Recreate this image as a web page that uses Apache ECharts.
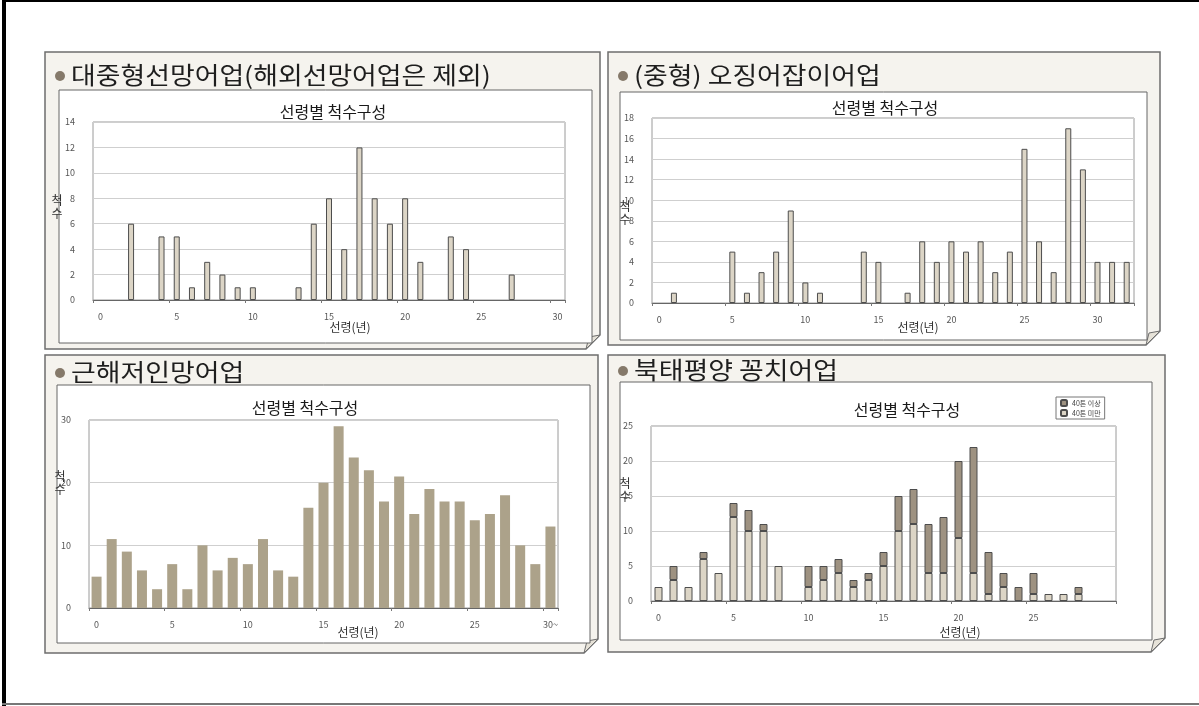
<!DOCTYPE html>
<html>
<head>
<meta charset="utf-8">
<script src="https://cdn.jsdelivr.net/npm/echarts@6/dist/echarts.min.js"></script>
<style>
  html, body { margin: 0; padding: 0; background: #ffffff; }
  #chart { width: 1199px; height: 706px; }
</style>
</head>
<body>
<div id="chart"></div>
<script>
// ---- categories (vessel age, years) ----
const ages0to30 = ['0','1','2','3','4','5','6','7','8','9','10','11','12','13','14','15','16','17','18','19','20','21','22','23','24','25','26','27','28','29','30'];
const ages0to32 = ['0','1','2','3','4','5','6','7','8','9','10','11','12','13','14','15','16','17','18','19','20','21','22','23','24','25','26','27','28','29','30','31','32'];
const trawlAges = ['0','1','2','3','4','5','6','7','8','9','10','11','12','13','14','15','16','17','18','19','20','21','22','23','24','25','26','27','28','29','30~'];

// ---- number of vessels by age ----
const purseSeine = [0,0,6,0,5,5,1,3,2,1,1,0,0,1,6,8,4,12,8,6,8,3,0,5,4,0,0,2,0,0,0];
const squidJig   = [0,1,0,0,0,5,1,3,5,9,2,1,0,0,5,4,0,1,6,4,6,5,6,3,5,15,6,3,17,13,4,4,4];
const trawl      = [5,11,9,6,3,7,3,10,6,8,7,11,6,5,16,20,29,24,22,17,21,15,19,17,17,14,15,18,10,7,13];
const sauryUnder40 = [2,3,2,6,4,12,10,10,5,0,2,3,4,2,3,5,10,11,4,4,9,4,1,2,0,1,1,1,1,0,0];
const sauryOver40  = [0,2,0,1,0,2,3,1,0,0,3,2,2,1,1,2,5,5,7,8,11,18,6,2,2,3,0,0,1,0,0];

// ---- text ----
const headings = ['대중형선망어업(해외선망어업은 제외)', '(중형) 오징어잡이어업', '근해저인망어업', '북태평양 꽁치어업'];
const chartTitle = '선령별 척수구성';
const xName = '선령(년)';
const yName = '척\n수';
const legendNames = ['40톤 이상', '40톤 미만'];

const FONT = '"Noto Sans CJK KR", "Noto Sans", sans-serif';
const LIGHT = '#dcd5c6';
const DARK = '#9e9281';
const EDGE = '#4d4d4d';

// empty age classes draw no bar at all
const bars = arr => arr.map(v => (v === 0 ? null : v));

// panel layout: outer paper frame, inner white box, plot grid, text anchors
const layout = [
  { outer: [45, 52, 555, 297], inner: [59, 90, 533, 253], grid: { left: 93, top: 122, width: 472, height: 178 },
    head: [55, 75], title: [333, 112], yName: [57, 207], xName: [350, 327] },
  { outer: [608, 52, 552, 293], inner: [620, 92, 527, 248], grid: { left: 652, top: 118, width: 482, height: 185 },
    head: [618, 75], title: [885, 108], yName: [625, 213], xName: [918, 327] },
  { outer: [45, 355, 553, 298], inner: [57, 385, 533, 258], grid: { left: 89, top: 420, width: 469, height: 188 },
    head: [55, 372], title: [305, 408], yName: [60, 483], xName: [358, 632] },
  { outer: [608, 355, 557, 297], inner: [620, 382, 532, 258], grid: { left: 651, top: 426, width: 465, height: 175 },
    head: [618, 370], title: [907, 410], yName: [625, 490], xName: [960, 632] }
];

const graphics = [];
// page edges
graphics.push({ type: 'rect', z: -10, shape: { x: 2, y: 0, width: 4, height: 706 }, style: { fill: '#000' } });
graphics.push({ type: 'rect', z: -10, shape: { x: 2, y: 0, width: 1197, height: 2 }, style: { fill: '#000' } });
graphics.push({ type: 'rect', z: -10, shape: { x: 2, y: 703, width: 1197, height: 2 }, style: { fill: '#777' } });

layout.forEach((p, i) => {
  const [ox, oy, ow, oh] = p.outer;
  const [ix, iy, iw, ih] = p.inner;
  const c = 14; // folded corner size
  // outer paper frame with folded bottom-right corner
  graphics.push({ type: 'polygon', z: -9,
    shape: { points: [[ox, oy], [ox + ow, oy], [ox + ow, oy + oh - c], [ox + ow - c, oy + oh], [ox, oy + oh]] },
    style: { fill: '#f5f3ee', stroke: '#6e6e6e', lineWidth: 1.5 } });
  graphics.push({ type: 'polygon', z: -8,
    shape: { points: [[ox + ow, oy + oh - c], [ox + ow - c, oy + oh], [ox + ow - c + 3, oy + oh - c + 2]] },
    style: { fill: '#e6e2d8', stroke: '#6e6e6e', lineWidth: 1 } });
  // inner white chart box
  graphics.push({ type: 'rect', z: -8, shape: { x: ix, y: iy, width: iw, height: ih },
    style: { fill: '#ffffff', stroke: '#666', lineWidth: 1 } });
  // heading with bullet
  graphics.push({ type: 'circle', z: -7, shape: { cx: p.head[0] + 5, cy: p.head[1] + 1, r: 5 },
    style: { fill: '#85796a' } });
  graphics.push({ type: 'text', z: -7, x: p.head[0] + 16, y: p.head[1], scaleX: 1.12,
    style: { text: headings[i], x: 0, y: 0,
      font: '24px ' + FONT, fill: '#1e1e1e', textVerticalAlign: 'middle', verticalAlign: 'middle' } });
  // chart title
  graphics.push({ type: 'text', z: -7, style: { text: chartTitle, x: p.title[0], y: p.title[1],
    font: '16px ' + FONT, fill: '#1a1a1a', textAlign: 'center', align: 'center', textVerticalAlign: 'middle', verticalAlign: 'middle' } });
  // axis names
  graphics.push({ type: 'text', z: -7, style: { text: yName, x: p.yName[0], y: p.yName[1], lineHeight: 13,
    font: '12px ' + FONT, fill: '#333', textAlign: 'center', align: 'center', textVerticalAlign: 'middle', verticalAlign: 'middle' } });
  graphics.push({ type: 'text', z: -7, style: { text: xName, x: p.xName[0], y: p.xName[1],
    font: '12px ' + FONT, fill: '#333', textAlign: 'center', align: 'center', textVerticalAlign: 'middle', verticalAlign: 'middle' } });
});

const grids = layout.map(p => Object.assign({ show: true, borderColor: '#9a9a9a', borderWidth: 1, backgroundColor: 'transparent' }, p.grid));

function xAxis(idx, cats, showLast) {
  return {
    type: 'category', gridIndex: idx, data: cats,
    axisLine: { lineStyle: { color: '#666' } },
    axisTick: { show: true, length: 3, lineStyle: { color: '#777' } },
    axisLabel: { fontSize: 9, color: '#555', fontFamily: FONT, margin: 12,
      interval: (i) => i % 5 === 0 && (showLast || i < 30) }
  };
}
function yAxis(idx, max, interval) {
  return {
    type: 'value', gridIndex: idx, min: 0, max: max, interval: interval,
    axisLine: { show: false }, axisTick: { show: false },
    splitLine: { lineStyle: { color: '#cfcfcf', width: 1 } },
    axisLabel: { fontSize: 9, color: '#555', fontFamily: FONT, margin: 18 }
  };
}

const option = {
  animation: false,
  backgroundColor: '#ffffff',
  textStyle: { fontFamily: FONT },
  grid: grids,
  xAxis: [xAxis(0, ages0to30, true), xAxis(1, ages0to32, true), xAxis(2, trawlAges, true), xAxis(3, ages0to30, false)],
  yAxis: [yAxis(0, 14, 2), yAxis(1, 18, 2), yAxis(2, 30, 10), yAxis(3, 25, 5)],
  legend: {
    data: legendNames, orient: 'vertical', left: 1056, top: 397, z: 5,
    itemWidth: 6, itemHeight: 6, itemGap: 2, padding: [2, 4],
    borderColor: '#777', borderWidth: 1, backgroundColor: '#fff',
    textStyle: { fontSize: 7, color: '#444', fontFamily: FONT }
  },
  graphic: { elements: graphics },
  series: [
    { type: 'bar', name: '대중형선망', xAxisIndex: 0, yAxisIndex: 0, data: bars(purseSeine), barWidth: 6,
      itemStyle: { color: LIGHT, borderColor: EDGE, borderWidth: 1 } },
    { type: 'bar', name: '오징어잡이', xAxisIndex: 1, yAxisIndex: 1, data: bars(squidJig), barWidth: 6,
      itemStyle: { color: LIGHT, borderColor: EDGE, borderWidth: 1 } },
    { type: 'bar', name: '근해저인망', xAxisIndex: 2, yAxisIndex: 2, data: bars(trawl), barWidth: 10,
      itemStyle: { color: '#aca28a' } },
    { type: 'bar', name: legendNames[1], xAxisIndex: 3, yAxisIndex: 3, data: bars(sauryUnder40), barWidth: 8, stack: 'saury',
      itemStyle: { color: LIGHT, borderColor: EDGE, borderWidth: 1 } },
    { type: 'bar', name: legendNames[0], xAxisIndex: 3, yAxisIndex: 3, data: bars(sauryOver40), barWidth: 8, stack: 'saury',
      itemStyle: { color: DARK, borderColor: EDGE, borderWidth: 1 } }
  ]
};

const chart = echarts.init(document.getElementById('chart'), null, { renderer: 'canvas' });
chart.setOption(option);
</script>
</body>
</html>
